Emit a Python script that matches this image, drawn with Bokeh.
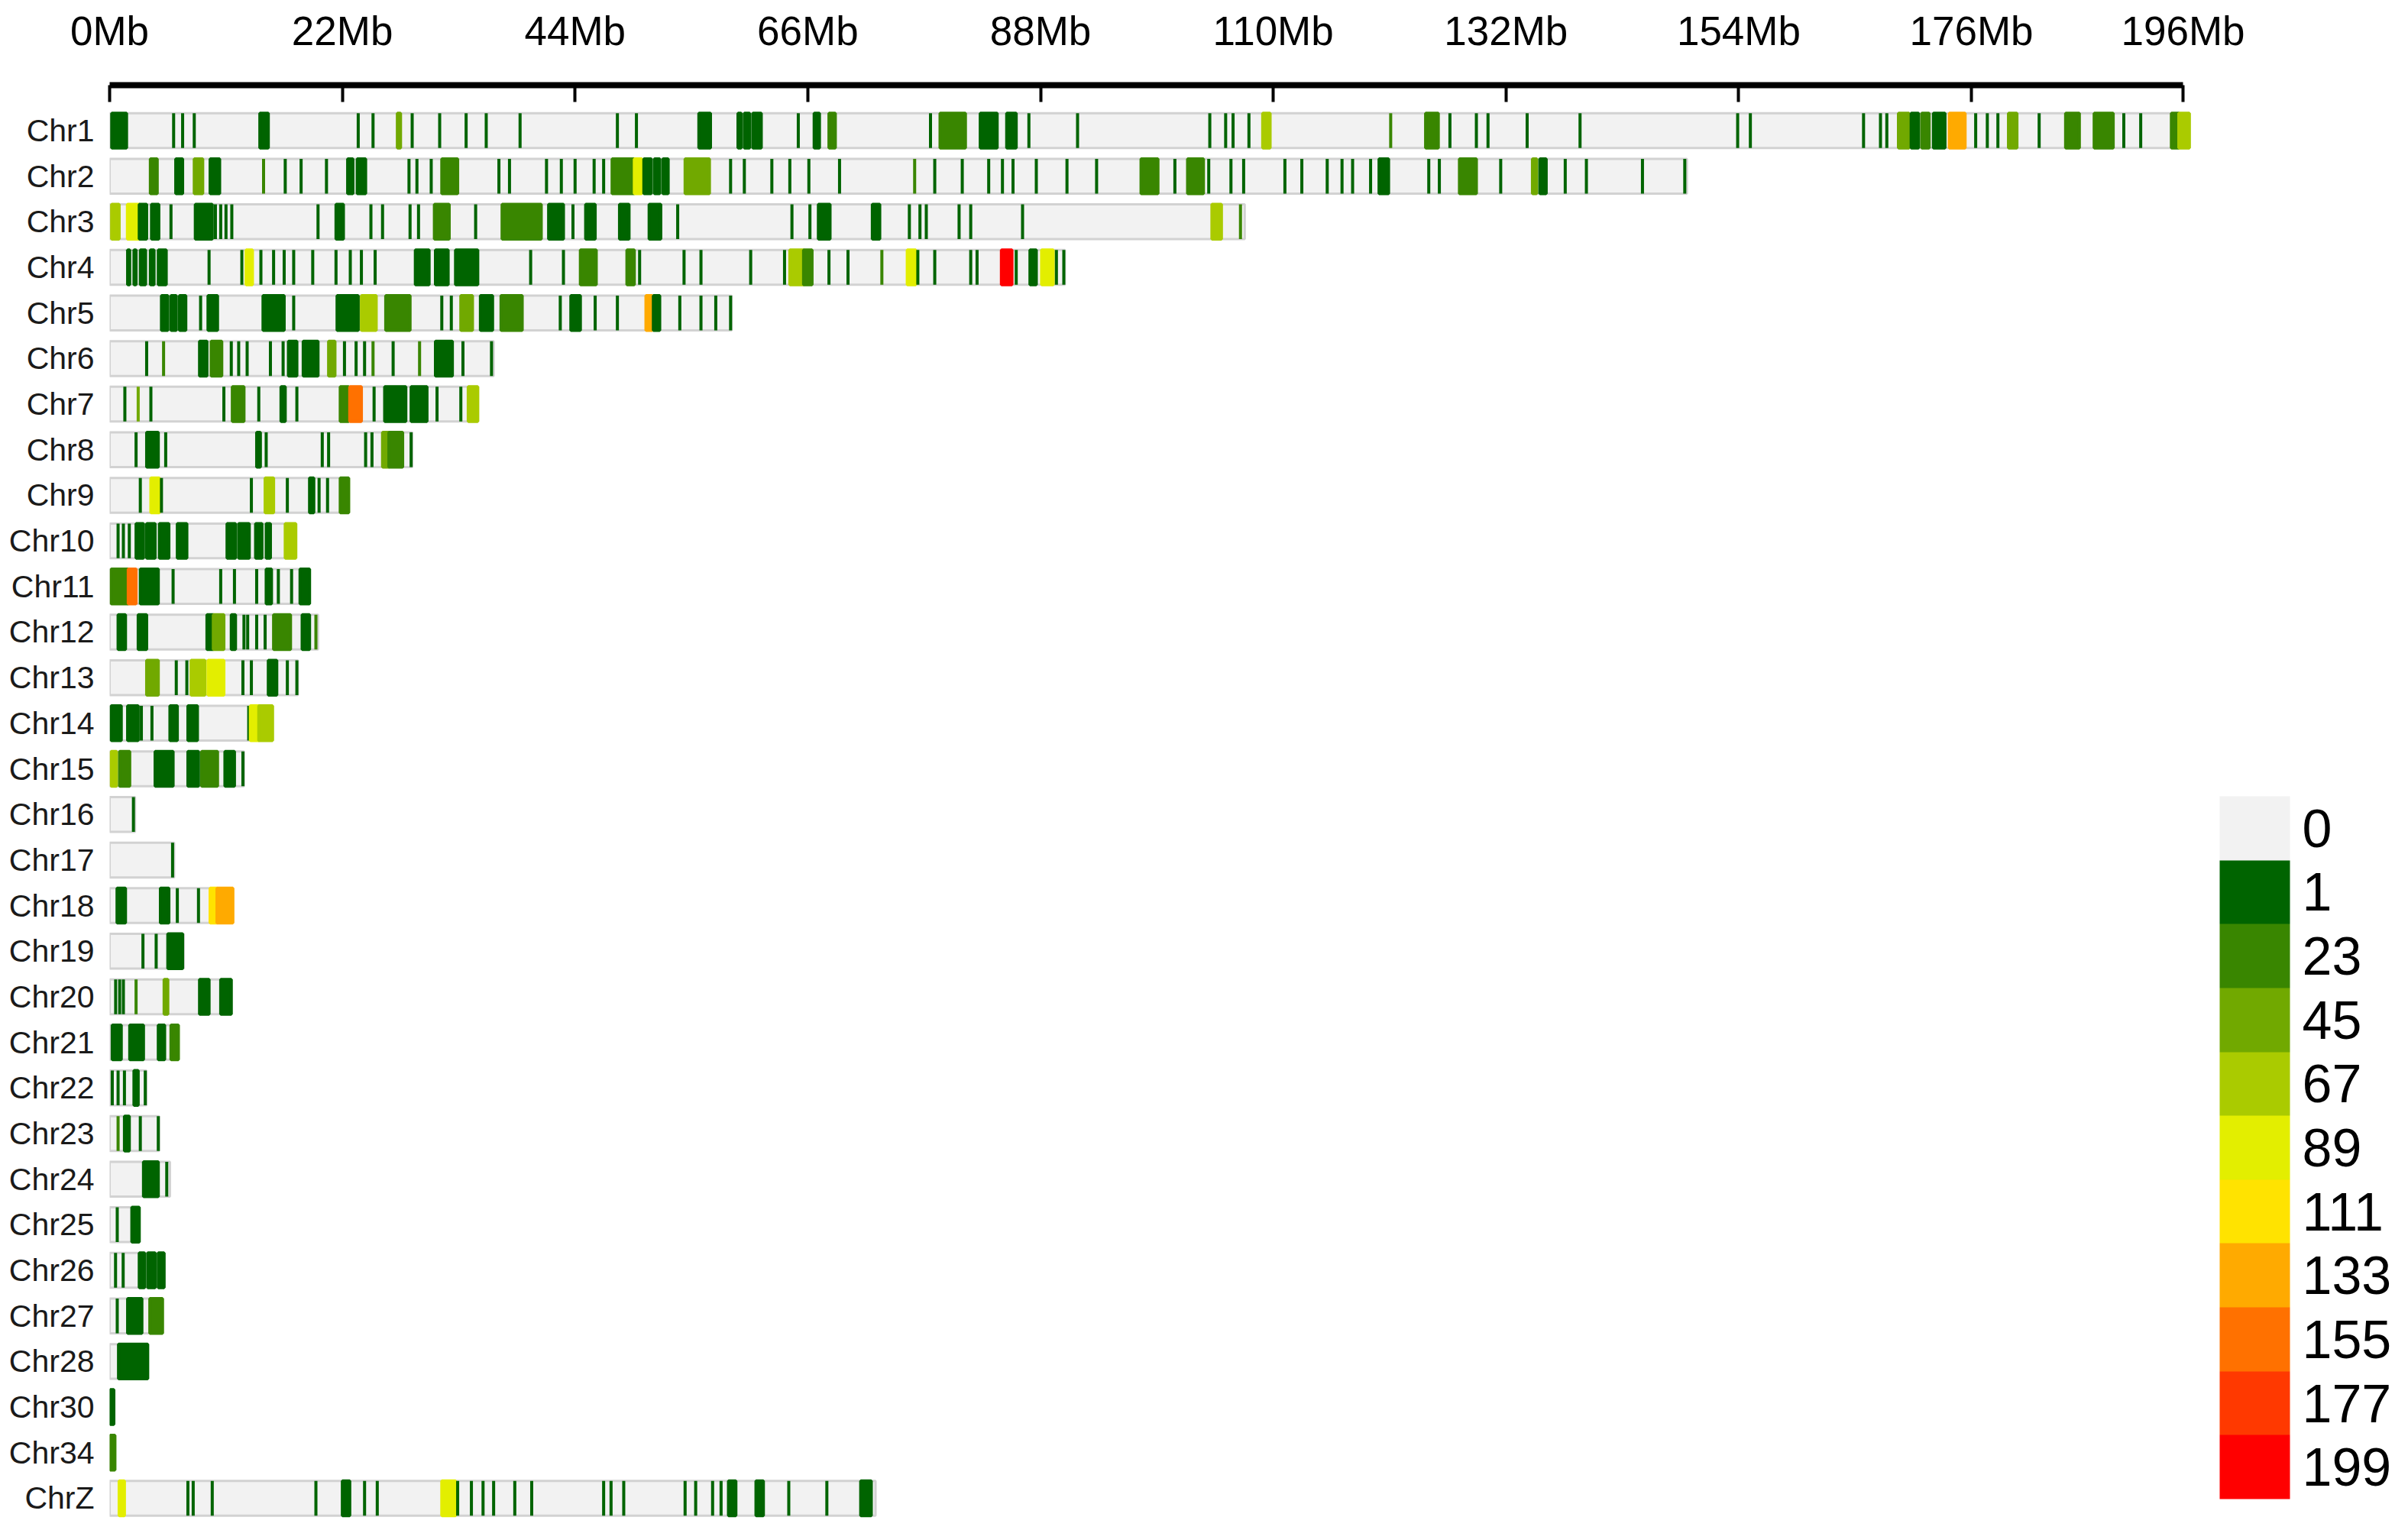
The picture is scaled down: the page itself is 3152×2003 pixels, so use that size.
from bokeh.plotting import figure
from bokeh.models import (Range1d, LinearAxis, FixedTicker, ColorBar,
                          LinearColorMapper, ColumnDataSource)
from bokeh.embed import file_html
from bokeh.resources import INLINE

# ---------------- data ----------------
chromosomes = ["Chr1", "Chr2", "Chr3", "Chr4", "Chr5", "Chr6", "Chr7", "Chr8", "Chr9",
               "Chr10", "Chr11", "Chr12", "Chr13", "Chr14", "Chr15", "Chr16", "Chr17",
               "Chr18", "Chr19", "Chr20", "Chr21", "Chr22", "Chr23", "Chr24", "Chr25",
               "Chr26", "Chr27", "Chr28", "Chr30", "Chr34", "ChrZ"]
chrom_length_mb = [196.6, 149.1, 107.3, 90.3, 58.8, 36.3, 34.8, 28.6, 22.6, 17.6, 18.9,
                   19.7, 17.8, 15.4, 12.7, 2.4, 6.1, 11.65, 7.0, 11.5, 6.5, 3.47, 4.67,
                   5.7, 2.8, 5.15, 5.0, 3.6, 0.4, 0.5, 72.4]

x_tick_mb = [0, 22, 44, 66, 88, 110, 132, 154, 176, 196]

# stripes: (start Mb, end Mb, SNP count of the bin)
CHR1 = [(0.2, 1.6, 10), (6.05, 6.05, 10), (6.9, 6.9, 10), (8.0, 8.0, 10), (14.2, 15.0, 10),
        (23.5, 23.5, 10), (24.9, 24.9, 10), (27.2, 27.5, 55), (28.6, 28.6, 10), (31.2, 31.2, 10),
        (33.7, 33.7, 10), (35.6, 35.6, 10), (38.8, 38.8, 10), (48.0, 48.0, 10), (49.8, 49.8, 10),
        (55.7, 56.8, 10), (59.4, 59.7, 10), (60.0, 60.5, 10), (60.8, 61.6, 10), (65.1, 65.1, 10),
        (66.6, 67.1, 10), (68.0, 68.6, 30), (77.6, 77.6, 10), (78.5, 80.9, 30), (82.3, 83.9, 10),
        (84.8, 85.7, 10), (86.9, 86.9, 10), (91.5, 91.5, 10), (104.0, 104.0, 10), (105.5, 105.5, 10),
        (106.2, 106.2, 10), (107.7, 107.7, 10), (109.0, 109.7, 75), (121.1, 121.1, 30),
        (124.4, 125.6, 30), (126.7, 126.7, 10), (129.2, 129.2, 10), (130.3, 130.3, 10),
        (134.0, 134.0, 10), (139.0, 139.0, 10), (153.9, 153.9, 10), (155.1, 155.1, 10),
        (165.8, 165.8, 10), (167.4, 167.4, 10), (168.0, 168.0, 10), (169.1, 170.1, 55),
        (170.3, 171.0, 10), (171.3, 172.0, 30), (172.4, 173.5, 10), (173.9, 175.4, 140),
        (176.4, 176.4, 10), (177.5, 177.5, 10), (178.5, 178.5, 10), (179.5, 180.3, 55),
        (182.4, 182.4, 10), (184.9, 186.2, 30), (187.6, 189.4, 30), (190.4, 190.4, 10),
        (192.0, 192.0, 10), (194.9, 195.6, 30), (195.6, 196.6, 75)]
CHR2 = [(3.85, 4.5, 30), (6.25, 6.9, 10), (8.0, 8.8, 55), (9.5, 10.4, 10), (14.55, 14.55, 30),
        (16.6, 16.6, 10), (18.1, 18.1, 10), (20.5, 20.5, 10), (22.5, 23.0, 10), (23.4, 24.2, 10),
        (28.3, 28.3, 10), (29.05, 29.05, 10), (30.4, 30.4, 10), (31.4, 32.9, 30), (36.8, 36.8, 10),
        (37.8, 37.8, 10), (41.3, 41.3, 10), (42.7, 42.7, 10), (44.0, 44.0, 10), (45.8, 45.8, 10),
        (46.7, 46.7, 10), (47.5, 49.6, 30), (49.6, 50.3, 95), (50.5, 51.2, 10), (51.5, 52.0, 10),
        (52.3, 52.8, 10), (54.4, 56.7, 55), (58.7, 58.7, 10), (60.0, 60.0, 10), (62.6, 62.6, 10),
        (64.3, 64.3, 10), (66.1, 66.1, 10), (69.0, 69.0, 10), (76.1, 76.1, 30), (78.0, 78.0, 10),
        (80.6, 80.6, 10), (83.1, 83.1, 10), (84.4, 84.4, 10), (85.4, 85.4, 10), (87.6, 87.6, 10),
        (90.5, 90.5, 10), (93.3, 93.3, 10), (97.5, 99.1, 30), (100.7, 100.7, 10), (101.9, 103.4, 30),
        (103.9, 103.9, 10), (106.0, 106.0, 10), (107.2, 107.2, 10), (111.1, 111.1, 10),
        (112.7, 112.7, 10), (115.1, 115.1, 10), (116.5, 116.5, 10), (117.5, 117.5, 10),
        (119.2, 119.2, 10), (120.0, 120.9, 10), (124.7, 124.7, 10), (125.7, 125.7, 10),
        (127.6, 129.2, 30), (131.5, 131.5, 10), (134.5, 134.9, 55), (135.2, 135.8, 10),
        (137.6, 137.6, 10), (139.6, 139.6, 10), (144.9, 144.9, 10), (148.9, 148.9, 10)]
CHR3 = [(0.19, 0.9, 75), (1.68, 2.8, 95), (2.8, 3.5, 10), (3.96, 4.65, 10), (5.8, 5.8, 10),
        (8.1, 9.7, 10), (10.0, 10.0, 10), (10.5, 10.5, 10), (11.0, 11.0, 10), (11.55, 11.55, 10),
        (19.7, 19.7, 10), (21.4, 22.1, 10), (24.7, 24.7, 10), (25.8, 25.8, 10), (28.4, 28.4, 10),
        (29.2, 29.2, 10), (30.7, 32.1, 30), (34.6, 34.6, 10), (37.1, 40.8, 30), (41.5, 42.9, 10),
        (43.8, 43.8, 10), (45.0, 45.9, 10), (48.2, 49.1, 10), (51.0, 52.1, 10), (53.7, 53.7, 10),
        (64.5, 64.5, 10), (66.2, 66.2, 10), (67.0, 68.1, 10), (72.1, 72.8, 10), (75.6, 75.6, 10),
        (76.6, 76.6, 10), (77.2, 77.2, 10), (80.3, 80.3, 10), (81.4, 81.4, 10), (86.3, 86.3, 10),
        (104.2, 105.1, 75), (106.9, 106.9, 30)]
CHR4 = [(1.7, 1.9, 10), (2.3, 2.5, 10), (2.9, 3.4, 10), (3.85, 4.2, 10), (4.6, 5.35, 10),
        (9.4, 9.4, 10), (12.5, 12.5, 10), (12.9, 13.5, 95), (14.3, 14.3, 10), (15.5, 15.5, 10),
        (16.5, 16.5, 10), (17.4, 17.4, 10), (19.2, 19.2, 10), (21.4, 21.4, 10), (22.75, 22.75, 10),
        (23.8, 23.8, 10), (25.1, 25.1, 10), (28.9, 30.2, 10), (30.8, 32.0, 10), (32.7, 34.8, 10),
        (39.8, 39.8, 10), (42.9, 42.9, 10), (44.5, 46.0, 30), (48.9, 49.6, 30), (50.1, 50.1, 10),
        (54.3, 54.3, 10), (55.9, 55.9, 10), (60.6, 60.6, 10), (63.8, 63.8, 10), (64.3, 65.6, 75),
        (65.6, 66.4, 30), (68.0, 68.0, 10), (69.8, 69.8, 10), (73.0, 73.0, 30), (75.4, 76.2, 95),
        (76.4, 76.4, 10), (78.0, 78.0, 10), (81.4, 81.4, 10), (82.0, 82.0, 10), (84.3, 85.3, 199),
        (85.7, 85.7, 10), (87.0, 87.6, 10), (88.1, 89.2, 95), (89.5, 89.5, 10), (90.2, 90.2, 10)]
CHR5 = [(4.9, 5.5, 10), (5.8, 6.3, 10), (6.6, 7.2, 10), (8.6, 8.6, 10), (9.3, 10.2, 10),
        (14.5, 16.5, 10), (17.4, 17.4, 10), (21.5, 23.5, 10), (23.8, 25.2, 75), (26.1, 28.4, 30),
        (31.4, 31.4, 10), (32.3, 32.3, 10), (33.2, 34.3, 55), (35.05, 36.2, 10), (37.0, 39.0, 30),
        (42.6, 42.6, 10), (43.6, 44.5, 10), (45.9, 45.9, 10), (48.0, 48.0, 10), (50.7, 51.3, 140),
        (51.4, 52.0, 10), (53.9, 53.9, 10), (55.9, 55.9, 10), (57.3, 57.3, 10), (58.7, 58.7, 10)]
CHR6 = [(3.5, 3.5, 10), (5.1, 5.1, 30), (8.5, 9.2, 10), (9.6, 10.6, 30), (11.5, 11.5, 10),
        (12.2, 12.2, 10), (13.0, 13.0, 10), (15.2, 15.2, 10), (16.4, 16.4, 10), (16.9, 17.7, 10),
        (18.3, 19.7, 10), (20.7, 21.3, 55), (22.2, 22.2, 10), (23.3, 23.3, 10), (24.1, 24.1, 10),
        (24.9, 24.9, 30), (26.8, 26.8, 10), (29.3, 29.3, 30), (30.8, 32.4, 10), (33.4, 33.4, 10),
        (36.1, 36.1, 10)]
CHR7 = [(1.44, 1.44, 10), (2.7, 2.7, 55), (3.9, 3.9, 10), (10.8, 10.8, 10), (11.6, 12.7, 30),
        (14.1, 14.1, 10), (16.2, 16.6, 10), (17.7, 17.7, 10), (21.8, 22.6, 30), (22.7, 23.8, 160),
        (25.0, 25.0, 10), (26.0, 28.0, 10), (28.5, 30.0, 10), (30.95, 30.95, 10), (33.2, 33.2, 10),
        (33.9, 34.8, 80)]
CHR8 = [(2.5, 2.5, 10), (3.5, 4.6, 10), (5.3, 5.3, 10), (13.9, 14.25, 10), (14.8, 14.8, 10),
        (20.1, 20.1, 10), (20.7, 20.7, 10), (24.2, 24.2, 10), (24.8, 24.8, 10), (25.8, 26.4, 55),
        (26.4, 27.7, 30), (28.5, 28.5, 10)]
CHR9 = [(2.9, 2.9, 10), (3.9, 4.7, 95), (4.9, 4.9, 10), (13.4, 13.4, 10), (14.7, 15.5, 75),
        (16.8, 16.8, 10), (18.9, 19.3, 10), (19.8, 19.8, 10), (20.6, 20.6, 10), (21.8, 22.6, 30)]
CHR10 = [(0.8, 0.8, 10), (1.3, 1.3, 10), (1.86, 1.86, 10), (2.5, 3.2, 10), (3.5, 4.3, 10),
         (4.7, 5.6, 10), (6.4, 7.3, 10), (11.1, 11.9, 10), (12.2, 13.2, 10), (13.8, 14.4, 10),
         (14.8, 15.2, 10), (16.6, 17.6, 75)]
CHR11 = [(0.15, 1.76, 30), (1.76, 2.5, 160), (2.9, 4.6, 10), (6.0, 6.0, 10), (10.5, 10.5, 10),
         (11.8, 11.8, 10), (13.9, 13.9, 10), (14.8, 15.3, 10), (15.95, 15.95, 10), (17.2, 17.2, 10),
         (18.0, 18.9, 10)]
CHR12 = [(0.8, 1.5, 10), (2.7, 3.5, 10), (9.2, 9.8, 10), (9.8, 10.8, 55), (11.5, 11.9, 10),
         (12.7, 12.7, 10), (13.05, 13.05, 10), (13.9, 13.9, 10), (14.7, 14.7, 10), (15.5, 17.1, 30),
         (18.2, 18.9, 10), (19.5, 19.5, 30)]
CHR13 = [(3.5, 4.6, 55), (6.3, 6.3, 10), (7.3, 7.3, 10), (7.7, 9.0, 75), (9.3, 10.8, 95),
         (12.6, 12.6, 10), (13.4, 13.4, 10), (15.0, 15.8, 10), (16.8, 16.8, 10), (17.7, 17.7, 10)]
CHR14 = [(0.15, 1.1, 10), (1.7, 2.7, 10), (3.0, 3.0, 10), (4.0, 4.0, 10), (5.7, 6.4, 10),
         (7.4, 8.3, 10), (13.15, 13.15, 10), (13.3, 14.1, 95), (14.1, 15.4, 75)]
CHR15 = [(0.15, 0.65, 75), (0.94, 1.9, 30), (4.3, 6.0, 10), (7.4, 8.4, 10), (8.7, 10.2, 30),
         (10.9, 11.8, 10), (12.6, 12.6, 10)]
CHR16 = [(2.25, 2.25, 10)]
CHR17 = [(5.95, 5.95, 10)]
CHR18 = [(0.7, 1.5, 10), (4.8, 5.6, 10), (6.4, 6.4, 10), (8.4, 8.4, 10), (9.5, 10.15, 120),
         (10.15, 11.65, 140)]
CHR19 = [(3.15, 3.15, 10), (4.4, 4.4, 10), (5.5, 6.9, 10)]
CHR20 = [(0.57, 0.57, 10), (0.95, 0.95, 10), (1.3, 1.3, 10), (2.5, 2.5, 30), (5.15, 5.5, 55),
         (8.5, 9.4, 10), (10.5, 11.5, 10)]
CHR21 = [(0.25, 1.1, 10), (1.9, 3.2, 10), (4.6, 5.2, 10), (5.8, 6.5, 30)]
CHR22 = [(0.25, 0.25, 10), (0.8, 0.8, 10), (1.4, 1.4, 10), (2.3, 2.7, 10), (3.37, 3.37, 10)]
CHR23 = [(0.8, 0.8, 30), (1.4, 1.86, 10), (2.9, 2.9, 10), (4.6, 4.6, 10)]
CHR24 = [(3.2, 4.6, 10), (5.4, 5.4, 10)]
CHR25 = [(0.72, 0.72, 10), (2.1, 2.8, 10)]
CHR26 = [(0.56, 0.56, 10), (1.28, 1.28, 10), (2.8, 3.3, 10), (3.6, 4.3, 10), (4.6, 5.15, 10)]
CHR27 = [(0.72, 0.72, 10), (1.7, 3.05, 10), (3.8, 5.0, 30)]
CHR28 = [(0.84, 3.6, 10)]
CHR30 = [(0.06, 0.4, 10)]
CHR34 = [(0.06, 0.5, 30)]
CHRZ = [(0.9, 1.4, 95), (7.4, 7.4, 10), (7.9, 7.9, 10), (9.7, 9.7, 10), (19.5, 19.5, 10),
        (22.0, 22.7, 10), (24.1, 24.1, 10), (25.3, 25.3, 10), (31.4, 32.7, 95), (32.9, 32.9, 10),
        (34.2, 34.2, 10), (35.3, 35.3, 10), (36.3, 36.3, 10), (38.3, 38.3, 10), (39.9, 39.9, 10),
        (46.7, 46.7, 10), (47.4, 47.4, 10), (48.6, 48.6, 10), (54.4, 54.4, 10), (55.4, 55.4, 10),
        (57.0, 57.0, 10), (57.8, 57.8, 10), (58.5, 59.2, 10), (61.1, 61.8, 10), (64.2, 64.2, 10),
        (67.8, 67.8, 10), (71.0, 72.0, 10)]

chrom_stripes = [CHR1, CHR2, CHR3, CHR4, CHR5, CHR6, CHR7, CHR8, CHR9, CHR10, CHR11, CHR12,
                 CHR13, CHR14, CHR15, CHR16, CHR17, CHR18, CHR19, CHR20, CHR21, CHR22, CHR23,
                 CHR24, CHR25, CHR26, CHR27, CHR28, CHR30, CHR34, CHRZ]

legend_labels = ["0", "1", "23", "45", "67", "89", "111", "133", "155", "177", "199"]
legend_colors = ["#F2F2F2", "#006400", "#398600", "#71A900", "#AACB00", "#E3EE00",
                 "#FFE300", "#FFAA00", "#FF7100", "#FF3900", "#FF0000"]
bin_step = 22

FONT = "Liberation Sans"
HALF = 0.381


def density_color(count):
    idx = min(9, (count - 1) // bin_step)
    return legend_colors[1 + idx]


# ---------------- figure ----------------
W, H = 3136, 1987
LEFT, TOP = 143, 111
p = figure(width=W, height=H, output_backend="svg", toolbar_location=None,
           x_range=Range1d(0, (W - LEFT) / 13.847),
           y_range=Range1d(30.437, -0.997),
           x_axis_location=None, y_axis_location=None,
           min_border_left=LEFT, min_border_top=TOP, min_border_right=0, min_border_bottom=0)
p.outline_line_color = None
p.grid.visible = False
p.background_fill_color = "white"

bars = ColumnDataSource(dict(
    left=[0.0] * len(chromosomes), right=chrom_length_mb,
    bottom=[i - HALF for i in range(len(chromosomes))],
    top=[i + HALF for i in range(len(chromosomes))]))
p.quad(source=bars, left="left", right="right", bottom="bottom", top="top",
       fill_color="#F2F2F2", line_color="#D2D2D2", line_width=3)

sl, sr, sb, st, sc = [], [], [], [], []
for i, stripes in enumerate(chrom_stripes):
    for (s, e, c) in stripes:
        sl.append(s)
        sr.append(e)
        sb.append(i - HALF)
        st.append(i + HALF)
        sc.append(density_color(c))
stripe_src = ColumnDataSource(dict(left=sl, right=sr, bottom=sb, top=st, color=sc))
p.quad(source=stripe_src, left="left", right="right", bottom="bottom", top="top",
       fill_color="color", line_color="color", line_width=4)

# top axis
top_axis = LinearAxis(ticker=FixedTicker(ticks=x_tick_mb),
                      major_label_overrides={t: f"{t}Mb" for t in x_tick_mb},
                      bounds=(0, 196))
top_axis.axis_line_width = 8
top_axis.axis_line_color = "black"
top_axis.major_tick_in = 22
top_axis.major_tick_out = 0
top_axis.major_tick_line_width = 4
top_axis.minor_tick_line_color = None
top_axis.major_label_text_font = FONT
top_axis.major_label_text_font_size = "53px"
top_axis.major_label_text_color = "black"
top_axis.major_label_standoff = 42
p.add_layout(top_axis, "above")

# left axis with chromosome names
left_axis = LinearAxis(ticker=FixedTicker(ticks=list(range(len(chromosomes)))),
                       major_label_overrides={i: n for i, n in enumerate(chromosomes)})
left_axis.axis_line_color = None
left_axis.major_tick_line_color = None
left_axis.minor_tick_line_color = None
left_axis.major_tick_out = 0
left_axis.major_tick_in = 0
left_axis.major_label_standoff = 20
left_axis.major_label_text_font = FONT
left_axis.major_label_text_font_size = "41px"
left_axis.major_label_text_color = "#1a1a1a"
p.add_layout(left_axis, "left")

# legend as colour bar (0 on top, 199 at bottom)
n = len(legend_labels)
mapper = LinearColorMapper(palette=legend_colors[::-1], low=0, high=n)
rev_labels = legend_labels[::-1]
cb = ColorBar(color_mapper=mapper,
              ticker=FixedTicker(ticks=[k + 0.5 for k in range(n)]),
              major_label_overrides={k + 0.5: rev_labels[k] for k in range(n)},
              orientation="vertical", width=92, height=920,
              location=(2762, 25), padding=0, margin=0,
              major_tick_line_color=None, minor_tick_line_color=None,
              bar_line_color=None, border_line_color=None, background_fill_color=None,
              label_standoff=16,
              major_label_text_font=FONT, major_label_text_font_size="70px",
              major_label_text_color="black")
p.add_layout(cb, "center")

open("out.html", "w").write(file_html(p, INLINE))
